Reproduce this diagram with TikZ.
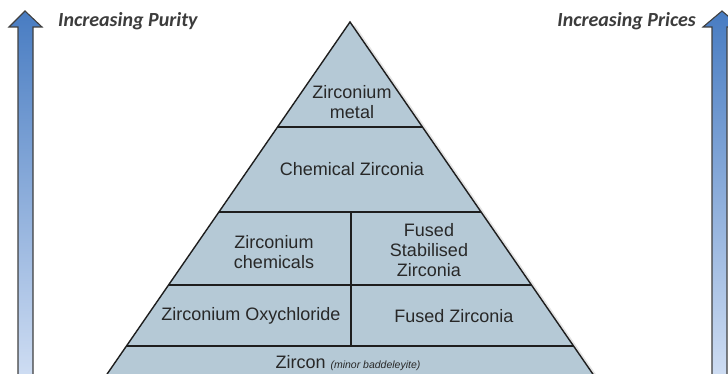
\documentclass[tikz,border=0pt]{standalone}
\usepackage{fontspec}
\setmainfont{Liberation Sans}
\newfontfamily\carlitofont{Carlito}
\usetikzlibrary{calc}
\definecolor{pyrfill}{RGB}{181,201,214}
\definecolor{pyrline}{RGB}{30,30,30}
\definecolor{arrtop}{RGB}{72,124,194}
\definecolor{arrbot}{RGB}{208,222,243}
\definecolor{labgray}{RGB}{60,60,60}
\definecolor{txtgray}{RGB}{40,40,40}
\tikzset{
  pyrtext/.style={align=center, text=txtgray, font=\fontsize{18}{20}\selectfont, inner sep=0pt},
  sidelabel/.style={text=labgray, font=\carlitofont\bfseries\itshape\fontsize{20}{22}\selectfont, inner sep=0pt},
  bigarrow/.style={draw=black!75, line width=1.1pt, top color=arrtop, bottom color=arrbot, line join=miter},
  layerline/.style={draw=pyrline, line width=1.4pt},
}
\begin{document}
\begin{tikzpicture}[x=1pt,y=-1pt]
\useasboundingbox (0,0) rectangle (728,374);
\clip (0,0) rectangle (728,374);
% pyramid coordinates
\coordinate (A) at (350,22);
\coordinate (BL) at (103,380);
\coordinate (BR) at (597,380);
\coordinate (L1) at (277.5,127); \coordinate (R1) at (422.5,127);
\coordinate (L2) at (218.9,212); \coordinate (R2) at (481.1,212);
\coordinate (L3) at (168.5,285); \coordinate (R3) at (531.5,285);
\coordinate (L4) at (126.4,346); \coordinate (R4) at (573.6,346);
\coordinate (M2) at (351,212);
\coordinate (M4) at (351,346);
% shadow
\fill[black!10] ($(A)+(5,3)$) -- ($(BR)+(5,3)$) -- ($(BL)+(5,3)$) -- cycle;
% pyramid body
\fill[pyrfill] (A) -- (BR) -- (BL) -- cycle;
\draw[layerline] (L1) -- (R1);
\draw[layerline] (L2) -- (R2);
\draw[layerline] (L3) -- (R3);
\draw[layerline] (L4) -- (R4);
\draw[layerline] (M2) -- (M4);
\draw[layerline, line join=miter] (BL) -- (A) -- (BR);
% texts
\node[pyrtext] (metal) at (352,102) {Zirconium\\metal};
\node[pyrtext] (chemzr) at (352,169) {Chemical Zirconia};
\node[pyrtext] (zrchem) at (274,252) {Zirconium\\chemicals};
\node[pyrtext] (fsz) at (429,250) {Fused\\Stabilised\\Zirconia};
\node[pyrtext] (oxy) at (251,316) {Zirconium Oxychloride};
\node[pyrtext] (fz) at (454,316) {Fused Zirconia};
\node[pyrtext] (zircon) at (348,363) {Zircon {\fontsize{10.5}{12}\itshape\selectfont (minor baddeleyite)}};
% arrows
\path[bigarrow] (18,380) -- (18,27) -- (9,27) -- (25,11) -- (42,27) -- (33,27) -- (33,380) -- cycle;
\path[bigarrow] (712,380) -- (712,27) -- (703,27) -- (722,11) -- (741,27) -- (727,27) -- (727,380) -- cycle;
% side labels
\node[sidelabel, anchor=west] (purity) at (58,21) {Increasing Purity};
\node[sidelabel, anchor=east] (prices) at (696,21) {Increasing Prices};
\end{tikzpicture}
\end{document}
